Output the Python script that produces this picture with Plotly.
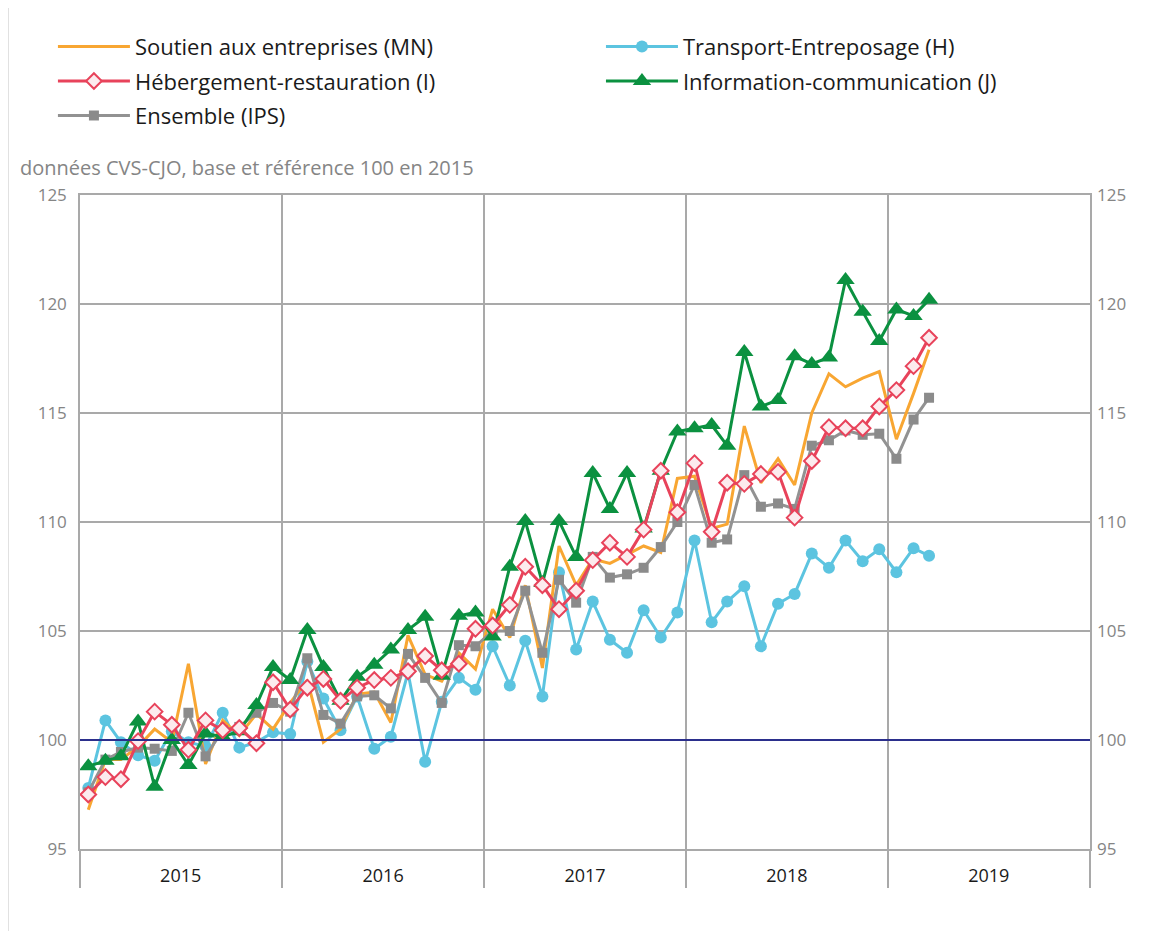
import plotly.graph_objects as go
import pandas as pd

# Monthly points, Jan 2015 .. Mar 2019 (plotted mid-month)
months = pd.date_range("2015-01-01", periods=51, freq="MS") + pd.Timedelta(days=15)

soutien = [96.8, 99.1, 99.1, 99.7, 100.5, 99.9, 103.5, 98.9, 100.9, 100.2, 101.2, 100.5,
           101.7, 102.75, 99.9, 100.5, 102.1, 102.2, 100.8, 104.8, 103.0, 102.7, 104.0, 103.25,
           106.0, 104.7, 107.1, 103.3, 108.9, 107.1, 108.3, 108.1, 108.5, 108.9, 108.6, 112.0,
           112.1, 109.7, 109.9, 114.4, 111.8, 112.9, 111.7, 115.0, 116.8, 116.2, 116.6, 116.9,
           113.8, 115.9, 117.9]

hebergement = [97.5, 98.3, 98.2, 99.95, 101.3, 100.7, 99.55, 100.9, 100.45, 100.55, 99.85, 102.65,
               101.4, 102.4, 102.8, 101.8, 102.4, 102.75, 102.85, 103.15, 103.85, 103.2, 103.5, 105.1,
               105.25, 106.2, 107.95, 107.1, 106.0, 106.85, 108.25, 109.05, 108.4, 109.65, 112.35, 110.45,
               112.7, 109.55, 111.8, 111.75, 112.2, 112.3, 110.2, 112.8, 114.35, 114.3, 114.3, 115.3,
               116.05, 117.15, 118.45]

ensemble = [97.6, 99.1, 99.45, 99.65, 99.6, 99.5, 101.25, 99.25, 100.45, 100.6, 101.25, 101.7,
            101.3, 103.75, 101.15, 100.75, 102.0, 102.05, 101.45, 103.95, 102.85, 101.7, 104.35, 104.3,
            105.0, 105.0, 106.85, 104.0, 107.35, 106.3, 108.4, 107.45, 107.6, 107.9, 108.85, 110.0,
            111.7, 109.05, 109.2, 112.15, 110.7, 110.85, 110.6, 113.5, 113.75, 114.2, 114.0, 114.05,
            112.9, 114.7, 115.7]

transport = [97.8, 100.9, 99.9, 99.3, 99.05, 100.4, 99.9, 99.7, 101.25, 99.65, 99.9, 100.35,
             100.27, 103.6, 101.9, 100.45, 102.0, 99.6, 100.15, 103.1, 99.0, 101.75, 102.85, 102.3,
             104.3, 102.5, 104.55, 102.0, 107.7, 104.15, 106.35, 104.6, 104.0, 105.95, 104.7, 105.85,
             109.15, 105.4, 106.35, 107.05, 104.3, 106.25, 106.7, 108.55, 107.9, 109.15, 108.2, 108.75,
             107.7, 108.8, 108.45]

information = [98.8, 99.05, 99.25, 100.85, 97.85, 100.0, 98.85, 100.3, 100.15, 100.4, 101.6, 103.35,
               102.75, 105.05, 103.35, 101.8, 102.9, 103.45, 104.15, 105.05, 105.65, 102.95, 105.7, 105.85,
               104.75, 107.95, 110.05, 107.2, 110.05, 108.4, 112.25, 110.6, 112.25, 109.7, 112.35, 114.15,
               114.3, 114.45, 113.5, 117.8, 115.3, 115.6, 117.6, 117.25, 117.55, 121.1, 119.65, 118.3,
               119.75, 119.45, 120.2]

year_labels = ["2015", "2016", "2017", "2018", "2019"]
year_mid = ["2015-07-02", "2016-07-02", "2017-07-02", "2018-07-02", "2019-07-02"]
year_bounds = ["2015-01-01", "2016-01-01", "2017-01-01", "2018-01-01", "2019-01-01", "2020-01-01"]

FONT = "Open Sans"
GRID = "#a9a9a9"

fig = go.Figure()

fig.add_trace(go.Scatter(
    x=months, y=transport, name="Transport-Entreposage (H)", mode="lines+markers",
    line=dict(color="#5cc4e0", width=3),
    marker=dict(symbol="circle", size=12, color="#5cc4e0"),
    legend="legend2", legendgroup="h"))

fig.add_trace(go.Scatter(
    x=months, y=soutien, name="Soutien aux entreprises (MN)", mode="lines",
    line=dict(color="#f8a632", width=3),
    legend="legend", legendgroup="mn", legendrank=1))

fig.add_trace(go.Scatter(
    x=months, y=ensemble, name="Ensemble (IPS)", mode="lines+markers",
    line=dict(color="#929292", width=3),
    marker=dict(symbol="square", size=10, color="#8b8b8b"),
    legend="legend", legendgroup="ips", legendrank=3))

fig.add_trace(go.Scatter(
    x=months, y=information, name="Information-communication (J)", mode="lines+markers",
    line=dict(color="#0b9140", width=3),
    marker=dict(symbol="triangle-up", size=16, color="#0b9140"),
    legend="legend2", legendgroup="j"))

fig.add_trace(go.Scatter(
    x=months, y=hebergement, name="Hébergement-restauration (I)", mode="lines+markers",
    line=dict(color="#e8435b", width=3),
    marker=dict(symbol="diamond", size=12, color="#fcebee",
                line=dict(color="#e8435b", width=2)),
    legend="legend", legendgroup="i", legendrank=2))

# invisible trace to carry the right-hand axis
fig.add_trace(go.Scatter(x=[months[0]], y=[100], yaxis="y2", mode="markers",
                         marker=dict(opacity=0), showlegend=False, hoverinfo="skip"))

fig.add_hline(y=100, line=dict(color="#2b2f8c", width=2))

# light frame line at the far left of the page
fig.add_shape(type="line", xref="paper", yref="paper",
              x0=-0.0713, x1=-0.0713, y0=-0.13, y1=1.30,
              line=dict(color="#d6d6d6", width=1.5), layer="below")

fig.add_annotation(text="données CVS-CJO, base et référence 100 en 2015",
                   xref="paper", yref="paper", x=-0.0614, y=1.0428,
                   xanchor="left", yanchor="middle", showarrow=False,
                   font=dict(family=FONT, size=20, color="#858585"))

legend_common = dict(
    orientation="v", font=dict(family=FONT, size=22, color="#1a1a1a"),
    bgcolor="rgba(0,0,0,0)", itemwidth=72, tracegroupgap=3,
    traceorder="grouped", yanchor="top", xanchor="left",
    itemclick=False, itemdoubleclick=False)

fig.update_layout(
    width=1161, height=923,
    margin=dict(l=72, r=79, t=187, b=82),
    paper_bgcolor="white", plot_bgcolor="white",
    font=dict(family=FONT),
    showlegend=True,
    legend=dict(x=-0.0268, y=1.259, **legend_common),
    legend2=dict(x=0.5158, y=1.259, **legend_common),
    xaxis=dict(
        type="date", range=["2015-01-01", "2020-01-01"],
        tickmode="array", tickvals=year_mid, ticktext=year_labels,
        ticks="", showgrid=False, zeroline=False,
        tickfont=dict(family=FONT, size=18, color="#1a1a1a"),
        ticklabelstandoff=10,
        showline=True, mirror=True, linecolor=GRID, linewidth=1.5,
        minor=dict(tickmode="array", tickvals=year_bounds, ticks="outside",
                   ticklen=37, tickcolor=GRID, tickwidth=1.5,
                   showgrid=True, gridcolor=GRID, gridwidth=1.5),
    ),
    yaxis=dict(
        range=[95, 125], dtick=5, tick0=95,
        showgrid=True, gridcolor=GRID, gridwidth=1.5, zeroline=False,
        ticks="", ticklabelstandoff=8,
        tickfont=dict(family=FONT, size=17, color="#858585"),
        showline=True, mirror=True, linecolor=GRID, linewidth=1.5,
    ),
    yaxis2=dict(
        range=[95, 125], dtick=5, tick0=95, overlaying="y", side="right",
        showgrid=False, zeroline=False, ticks="", ticklabelstandoff=6,
        tickfont=dict(family=FONT, size=17, color="#858585"),
    ),
)

fig.write_html("out.html")
